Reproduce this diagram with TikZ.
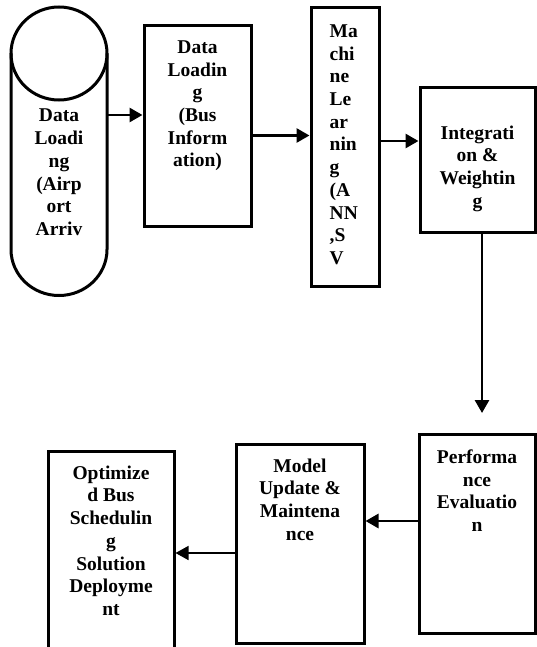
\documentclass[tikz,border=0pt]{standalone}
\usepackage{fontspec}
\setmainfont{Liberation Serif}
\newcommand{\blkfont}{\bfseries\fontsize{19.5}{22.7}\selectfont}
\usepackage{tikz}
\usetikzlibrary{arrows.meta,positioning}
\tikzset{
  every picture/.style = {
    x = 1pt,
    y = -1pt,
    >={Triangle[length=13pt,width=14pt]},
  }
  , % boxes of the flow
  blk/.style = {
    rectangle,
    draw,
    line width = 3pt,
    inner sep = 0pt
  }
  , % frame of the cylinder
  cylframe/.style = {
    rectangle,
    inner sep = 0pt,
    outer sep = 0pt
  }
  ,
  wall/.style = {
    line width = 3pt
  }
  , % texts in the boxes
  lbl/.style = {
    anchor = north,
    align = center,
    inner sep = 0pt,
    font = \blkfont,
    yshift = -#1
  }
  , % connectors
  arr/.style = {
    ->,
    line width = 2.8pt
  }
  ,
  arr-thin/.style = {
    ->,
    line width = 1.5pt
  }
}
\begin{document}
\begin{tikzpicture}
\useasboundingbox (0,0) rectangle (537,647);
% top row
\node[cylframe, minimum width=96pt, minimum height=289pt] at (59,151.5) (air)
  [label={[lbl=102pt]north:{Data\\Loadi\\ng\\(Airp\\ort\\Arriv}}] {};
\draw[wall] (air.north west) ++(0,46.5) -- ++(0,196)
  arc[start angle=180, end angle=0, x radius=48, y radius=46] -- ++(0,-196);
\draw[wall] (air.north) ++(0,46.5) ellipse [x radius=48, y radius=46.5];
\node[blk, minimum width=107pt, minimum height=200pt] at (197.5,126) (bus)
  [label={[lbl=16pt]north:{Data\\Loadin\\g\\(Bus\\Inform\\ation)}}] {};
\node[blk, minimum width=68pt, minimum height=278pt] at (345,147) (ml)
  [label={[lbl=18pt, anchor=north west, align=left, xshift=20pt]north west:{Ma\\chi\\ne\\Le\\ar\\nin\\g\\(A\\NN\\,S\\V}}] {};
\node[blk, minimum width=115pt, minimum height=144pt] at (477.5,160) (integ)
  [label={[lbl=39pt]north:{Integrati\\on \&\\Weightin\\g}}] {};
% bottom row
\node[blk, minimum width=116pt, minimum height=199pt] at (477,533.5) (perf)
  [label={[lbl=17pt]north:{Performa\\nce\\Evaluatio\\n}}] {};
\node[blk, minimum width=128pt, minimum height=199pt] at (300,543.5) (model)
  [label={[lbl=16pt]north:{Model\\Update \&\\Maintena\\nce}}] {};
\node[blk, minimum width=126pt, minimum height=215pt] at (111,558.5) (opt)
  [label={[lbl=16pt]north:{Optimize\\d Bus\\Schedulin\\g\\Solution\\Deployme\\nt}}] {};
\coordinate (perf-in) at (482,413);
% connectors
\draw[arr] (air.east |- 0,115) -- (bus.west |- 0,115);
\draw[arr] (bus.east |- 0,135.5) -- (ml.west |- 0,135.5);
\draw[arr] (ml.east |- 0,141) -- (integ.west |- 0,141);
\draw[arr] (integ.south -| perf-in) -- (perf-in);
\draw[arr] (perf.west |- 0,521) -- (model.east |- 0,521);
\draw[arr-thin] (model.west |- 0,553) -- (opt.east |- 0,553);
\end{tikzpicture}
\end{document}
